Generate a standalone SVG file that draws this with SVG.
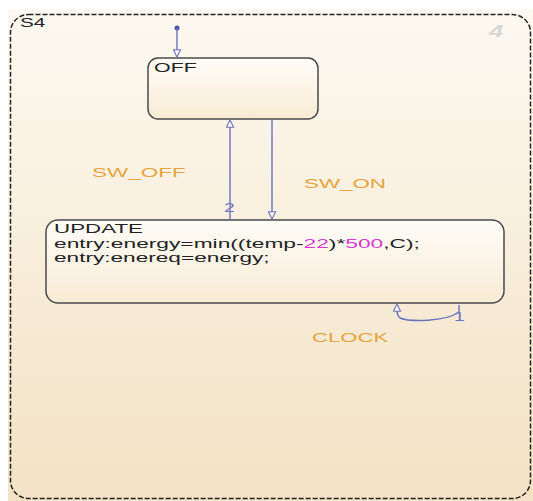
<svg xmlns="http://www.w3.org/2000/svg" width="533" height="501" viewBox="0 0 533 501">
<defs>
<linearGradient id="bg" x1="0" y1="0" x2="0" y2="1">
<stop offset="0" stop-color="#fdf9f1"/>
<stop offset="1" stop-color="#f3e2c4"/>
</linearGradient>
<linearGradient id="st" x1="0" y1="0" x2="0" y2="1">
<stop offset="0" stop-color="#fffcf7"/>
<stop offset="1" stop-color="#f8ebd6"/>
</linearGradient>
<marker id="ah" viewBox="0 0 10 10" refX="9" refY="5" markerWidth="9" markerHeight="9" orient="auto" markerUnits="userSpaceOnUse">
<path d="M1,1 L9,5 L1,9 Z" fill="#fdf8ef" stroke="#6a73bd" stroke-width="1.2"/>
</marker>
<style>
.t{font-family:"Liberation Sans",Arial,sans-serif;font-size:13px;fill:#222}
.lbl{font-family:"Liberation Sans",Arial,sans-serif;font-size:13px;fill:#e6a33a}
.num{font-family:"Liberation Sans",Arial,sans-serif;font-size:12px;fill:#6a73bd}
.st{fill:url(#st);stroke:#4a4a4a;stroke-width:1.5}
.c{fill:none;stroke:#6a73bd;stroke-width:1.4}
.m{fill:#d63ad6}
</style>
</defs>
<rect x="0" y="0" width="533" height="501" fill="#ffffff"/>
<rect x="8" y="9" width="525" height="492" fill="url(#bg)"/>
<g id="S4">
<rect x="10.5" y="14.5" width="520" height="484" rx="18" fill="none" stroke="#222" stroke-width="1.5" stroke-dasharray="5,2"/>
<text class="t" transform="translate(20,27) scale(1.6,1)">S4</text>
<text transform="translate(489,37) scale(1.6,1)" font-family="Liberation Sans,Arial,sans-serif" font-size="16" font-style="italic" font-weight="bold" fill="#d6d6d6">4</text>
</g>
<g id="OFF">
<rect class="st" x="148" y="58" width="170" height="61" rx="10"/>
<text class="t" transform="translate(154,72) scale(1.65,1)">OFF</text>
</g>
<g id="UPDATE">
<rect class="st" x="46" y="220" width="458" height="83" rx="12"/>
<text class="t" transform="translate(54,233) scale(1.72,1)">UPDATE</text>
<text class="t" transform="translate(54,248) scale(1.75,1)">entry:energy=min((temp-<tspan class="m">22</tspan>)*<tspan class="m">500</tspan>,C);</text>
<text class="t" transform="translate(54,262) scale(1.74,1)">entry:enereq=energy;</text>
</g>
<g id="connectors">
<circle cx="177" cy="28" r="2.5" fill="#4a52a8"/>
<path class="c" d="M177,28 L177,57" marker-end="url(#ah)"/>
<path class="c" d="M230,220 L230,120" marker-end="url(#ah)"/>
<path class="c" d="M272,120 L272,219" marker-end="url(#ah)"/>
<path class="c" d="M459,305 L459,312 C445,322 410,322 400,318 C396,315 397,310 397,304" marker-end="url(#ah)"/>
<text class="num" transform="translate(224,212) scale(1.6,1)">2</text>
<text class="num" transform="translate(454,321) scale(1.6,1)">1</text>
<text class="lbl" transform="translate(92,177) scale(1.73,1)">SW_OFF</text>
<text class="lbl" transform="translate(304,188) scale(1.72,1)">SW_ON</text>
<text class="lbl" transform="translate(312,342) scale(1.7,1)">CLOCK</text>
</g>
</svg>
